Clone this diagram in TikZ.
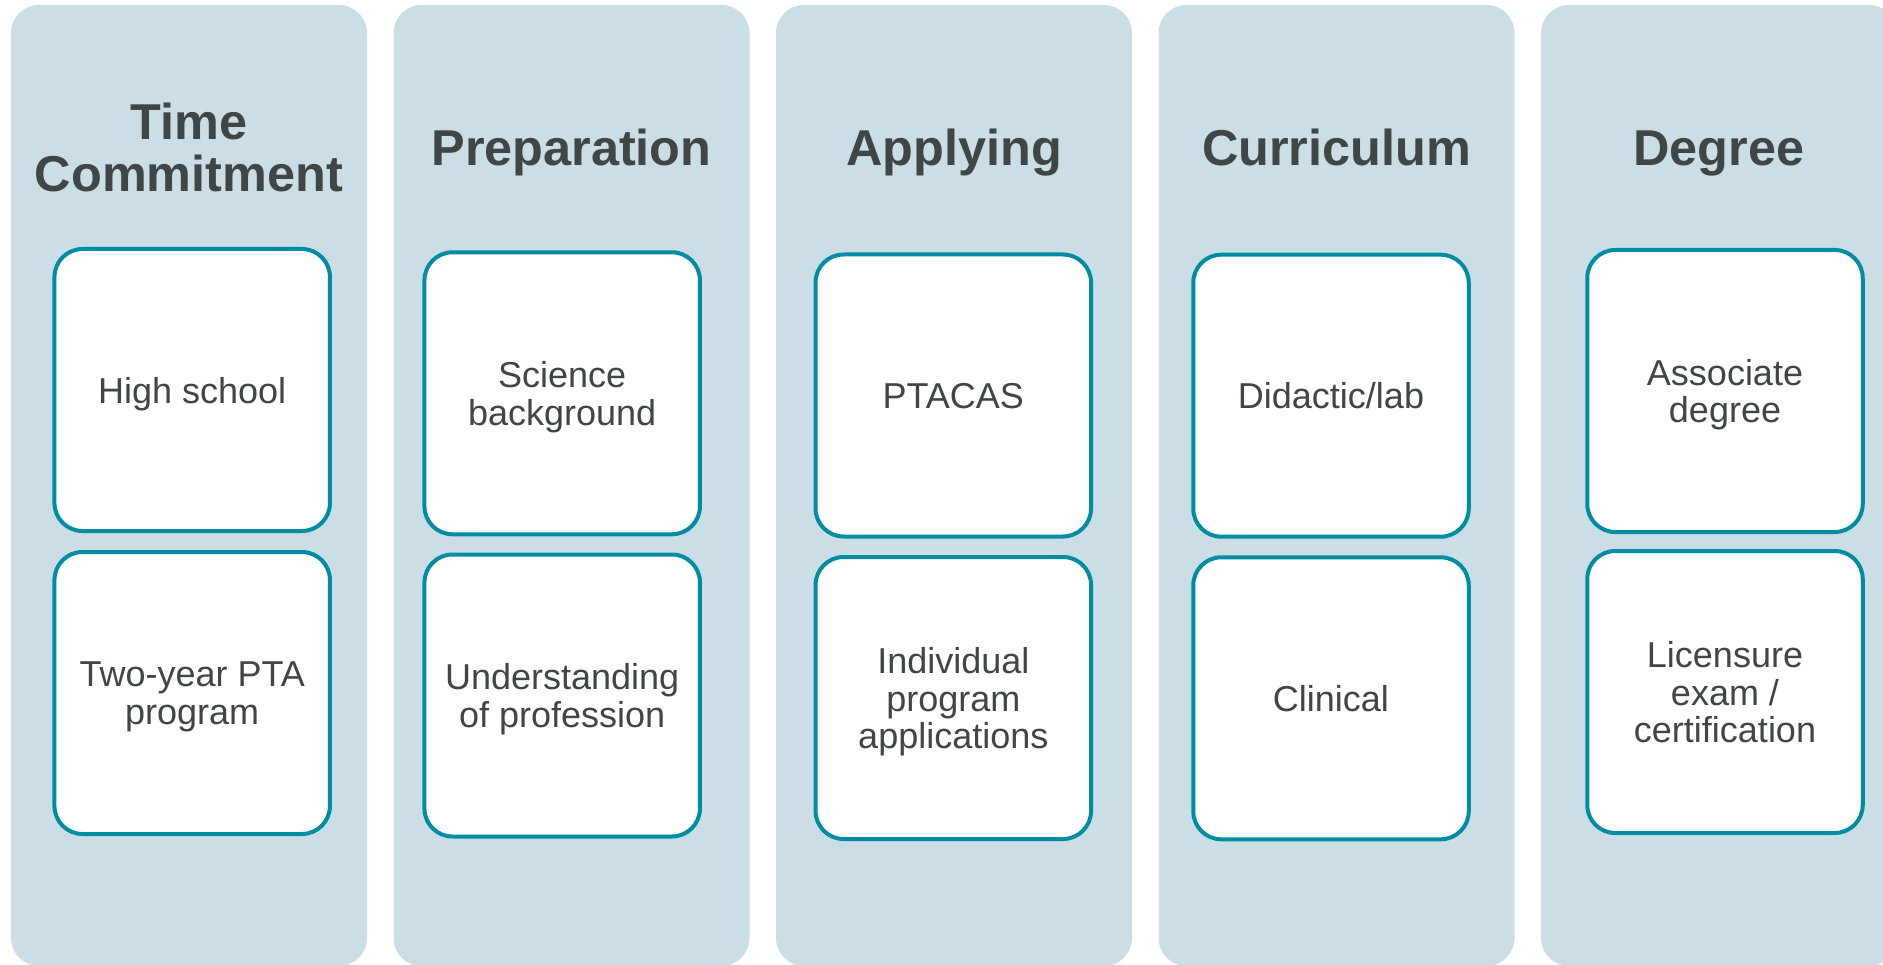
\documentclass[tikz,border=0pt]{standalone}
\usepackage{fontspec}
\setmainfont{Liberation Sans}
\usepackage{tikz}
\usetikzlibrary{positioning}
\definecolor{colbg}{RGB}{203,222,229}
\definecolor{boxline}{RGB}{0,140,163}
\definecolor{txt}{RGB}{64,69,70}

\begin{document}
\begin{tikzpicture}[x=1pt,y=-1pt,
  col/.style={fill=colbg,rounded corners=28pt,minimum width=356pt,minimum height=961pt,inner sep=0pt},
  head/.style={text=txt,font=\fontsize{50.4}{52}\selectfont\bfseries,align=center,anchor=base,inner sep=0pt},
  item/.style={draw=boxline,line width=4pt,fill=white,rounded corners=28pt,minimum width=275.5pt,minimum height=282pt,
    text=txt,font=\fontsize{36}{37.5}\selectfont,align=center,inner sep=0pt,text depth=0pt}]
\useasboundingbox (0,0) rectangle (1883,965);
\clip (0,0) rectangle (1883,965);
% columns
\node[col] (C1) at (189,485.5) {};
\node[col] (C2) at (571.5,485.5) {};
\node[col] (C3) at (954,485.5) {};
\node[col] (C4) at (1336.5,485.5) {};
\node[col] (C5) at (1719,485.5) {};
% headings
\node[head] (T1) at (189,191.7) {Time\\Commitment};
\node[head] (T2) at (571.5,166) {Preparation};
\node[head] (T3) at (954,166) {Applying};
\node[head] (T4) at (1336.5,166) {Curriculum};
\node[head] (T5) at (1719,166) {Degree};
% boxes
\node[item] (A1) at (192.2,390) {High school};
\node[item] (B1) at (192.2,693) {Two-year PTA\\program};
\node[item] (A2) at (562.2,393.3) {Science\\background};
\node[item] (B2) at (562.2,695.5) {Understanding\\of profession};
\node[item] (A3) at (953.3,395.5) {PTACAS};
\node[item] (B3) at (953.3,698) {Individual\\program\\applications};
\node[item] (A4) at (1331,395.7) {Didactic/lab};
\node[item] (B4) at (1331,698.3) {Clinical};
\node[item] (A5) at (1725,391) {Associate\\degree};
\node[item] (B5) at (1725,692) {Licensure\\exam /\\certification};
\end{tikzpicture}
\end{document}
